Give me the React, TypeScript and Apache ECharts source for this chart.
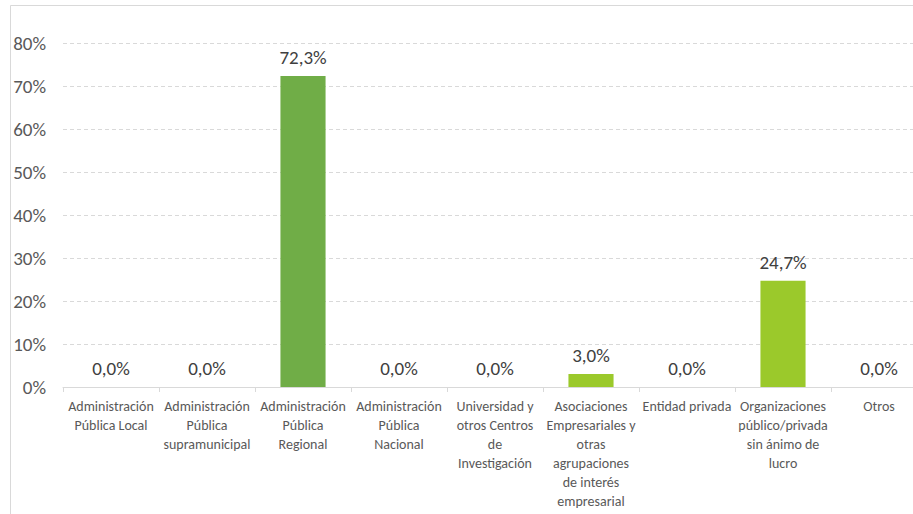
import React, { useEffect, useRef } from "react";
import * as echarts from "echarts";

const categories: string[] = [
  "Administración\nPública Local",
  "Administración\nPública\nsupramunicipal",
  "Administración\nPública\nRegional",
  "Administración\nPública\nNacional",
  "Universidad y\notros Centros\nde\nInvestigación",
  "Asociaciones\nEmpresariales y\notras\nagrupaciones\nde interés\nempresarial",
  "Entidad privada",
  "Organizaciones\npúblico/privada\nsin ánimo de\nlucro",
  "Otros",
];
const values: number[] = [0.0, 0.0, 72.3, 0.0, 0.0, 3.0, 0.0, 24.7, 0.0];
const barColors: string[] = [
  "#9BC92B", "#9BC92B", "#70AD47", "#9BC92B", "#9BC92B",
  "#9BC92B", "#9BC92B", "#9BC92B", "#9BC92B",
];
const yTicks = { min: 0, max: 80, interval: 10 };

const FONT = "Carlito, Calibri, Lato, sans-serif";

export default function App() {
  const ref = useRef<HTMLDivElement>(null);
  useEffect(() => {
    if (!ref.current) return;
    const chart = echarts.init(ref.current, null, { renderer: "svg" });
    chart.setOption({
      animation: false,
      backgroundColor: "#ffffff",
      textStyle: { fontFamily: FONT },
      graphic: [
        {
          type: "rect",
          shape: { x: 10.5, y: 5.5, width: 1000, height: 600 },
          style: { fill: "none", stroke: "#d9d9d9", lineWidth: 1 },
          silent: true,
        },
      ],
      grid: { left: 63, top: 43, width: 864, height: 344, containLabel: false },
      xAxis: {
        type: "category",
        data: categories,
        boundaryGap: true,
        axisLine: { show: true, lineStyle: { color: "#d9d9d9", width: 1 } },
        axisTick: { show: true, length: 5, alignWithLabel: false, lineStyle: { color: "#d9d9d9" } },
        axisLabel: {
          interval: 0,
          color: "#595959",
          fontSize: 14,
          lineHeight: 19,
          margin: 10,
          fontFamily: FONT,
          verticalAlign: "top",
        },
      },
      yAxis: {
        type: "value",
        min: yTicks.min,
        max: yTicks.max,
        interval: yTicks.interval,
        axisLine: { show: false },
        axisTick: { show: false },
        splitLine: { show: true, lineStyle: { color: "#d9d9d9", type: [4, 3], width: 1 } },
        axisLabel: {
          formatter: (v: number) => `${v}%`,
          color: "#595959",
          fontSize: 19,
          margin: 17,
          fontFamily: FONT,
        },
      },
      series: [
        {
          type: "bar",
          data: values.map((v, i) => ({ value: v, itemStyle: { color: barColors[i] } })),
          barWidth: "47%",
          label: {
            show: true,
            position: "top",
            distance: 9,
            color: "#404040",
            fontSize: 19,
            fontFamily: FONT,
            formatter: (p: any) => `${Number(p.value).toFixed(1).replace(".", ",")}%`,
          },
        },
      ],
    });
    return () => chart.dispose();
  }, []);
  return (
    <div
      style={{ position: "absolute", left: 0, top: 0, width: 913, height: 514, overflow: "hidden" }}
    >
      <div ref={ref} style={{ width: 960, height: 514 }} />
    </div>
  );
}
